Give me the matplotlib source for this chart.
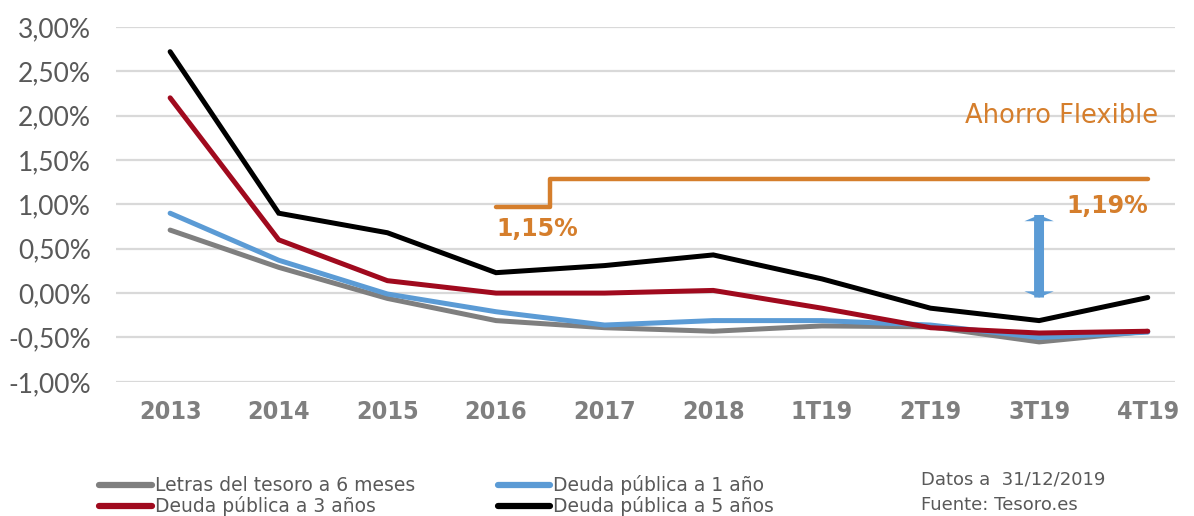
import matplotlib
matplotlib.use('Agg')
import matplotlib.pyplot as plt
from matplotlib.ticker import FuncFormatter
from matplotlib.patches import FancyArrow

categories = ['2013', '2014', '2015', '2016', '2017', '2018', '1T19', '2T19', '3T19', '4T19']
letras_6m = [0.71, 0.29, -0.06, -0.31, -0.39, -0.43, -0.37, -0.38, -0.55, -0.43]
deuda_1a = [0.90, 0.37, -0.01, -0.21, -0.36, -0.31, -0.31, -0.36, -0.50, -0.44]
deuda_3a = [2.20, 0.60, 0.14, 0.00, 0.00, 0.03, -0.17, -0.39, -0.45, -0.43]
deuda_5a = [2.72, 0.90, 0.68, 0.23, 0.31, 0.43, 0.16, -0.17, -0.31, -0.05]

# Ahorro Flexible (escalon dibujado como en el original)
ahorro_x = [3.0, 3.5, 3.5, 9.0]
ahorro_y = [0.97, 0.97, 1.28, 1.28]
ahorro_labels = ['1,15%', '1,19%']

# flecha azul: posicion en x y extremos en y
flecha_x = 8.0
flecha_y = (-0.05, 0.88)

series = [
    ('Letras del tesoro a 6 meses', letras_6m, '#7F7F7F'),
    ('Deuda pública a 1 año', deuda_1a, '#5B9BD5'),
    ('Deuda pública a 3 años', deuda_3a, '#A00A1E'),
    ('Deuda pública a 5 años', deuda_5a, '#000000'),
]

plt.rcParams['font.family'] = ['DejaVu Sans']

orange = '#D57E2C'
txt = '#595959'

fig = plt.figure(figsize=(11.94, 5.16), dpi=100)
ax = fig.add_axes([0.097, 0.26, 0.887, 0.688])

x = list(range(len(categories)))
handles = []
for name, vals, col in series:
    h, = ax.plot(x, vals, color=col, lw=3.6, solid_capstyle='round',
                 solid_joinstyle='miter', label=name, zorder=3)
    handles.append(h)

ax.plot(ahorro_x, ahorro_y, color=orange, lw=3.2, solid_capstyle='round', zorder=3)
ax.text(ahorro_x[0], 0.86, ahorro_labels[0], color=orange, fontsize=17, fontweight='bold',
        ha='left', va='top')
ax.text(ahorro_x[-1], 1.12, ahorro_labels[1], color=orange, fontsize=17, fontweight='bold',
        ha='right', va='top')
ax.text(9.1, 2.0, 'Ahorro Flexible', color=orange, fontsize=18.5, ha='right', va='center')

# flecha azul doble: dos flechas de largo completo superpuestas
largo = flecha_y[1] - flecha_y[0]
for start, d in ((flecha_y[0], 1), (flecha_y[1], -1)):
    ax.add_patch(FancyArrow(flecha_x, start, 0, d * largo, width=0.09, head_width=0.27,
                            head_length=0.07, length_includes_head=True,
                            color='#5B9BD5', lw=0, zorder=4))

ax.set_xlim(-0.5, 9.25)
ax.set_ylim(-1.0, 3.0)
ax.set_yticks([-1.0, -0.5, 0, 0.5, 1.0, 1.5, 2.0, 2.5, 3.0])
ax.yaxis.set_major_formatter(FuncFormatter(lambda v, p: '{:.2f}%'.format(v).replace('.', ',')))
ax.set_xticks(x)
ax.set_xticklabels(categories)
ax.grid(axis='y', color='#D9D9D9', lw=1.6, zorder=0)
ax.grid(axis='x', visible=False)
for s in ax.spines.values():
    s.set_visible(False)
ax.tick_params(axis='y', length=0, pad=18, labelcolor=txt)
ax.tick_params(axis='x', length=0, pad=13, labelcolor='#7F7F7F')
for lab in ax.get_yticklabels():
    lab.set_fontsize(19)
    lab.set_family('Lato')
for lab in ax.get_xticklabels():
    lab.set_fontsize(18)
    lab.set_fontweight('bold')
    lab.set_fontstretch('condensed')

order = [0, 2, 1, 3]
leg = fig.legend(handles=[handles[i] for i in order],
                 loc='lower left', bbox_to_anchor=(0.077, -0.015), ncol=2,
                 frameon=False, fontsize=13.5, handlelength=2.8, handletextpad=0.15,
                 columnspacing=4.4, labelspacing=0.05, borderaxespad=0)
for t in leg.get_texts():
    t.set_color(txt)
for lh in leg.get_lines():
    lh.set_linewidth(4.5)

fig.text(0.771, 0.07, 'Datos a  31/12/2019', fontsize=13, color=txt, va='center')
fig.text(0.771, 0.022, 'Fuente: Tesoro.es', fontsize=13, color=txt, va='center')

fig.savefig('out.png', dpi=100)
